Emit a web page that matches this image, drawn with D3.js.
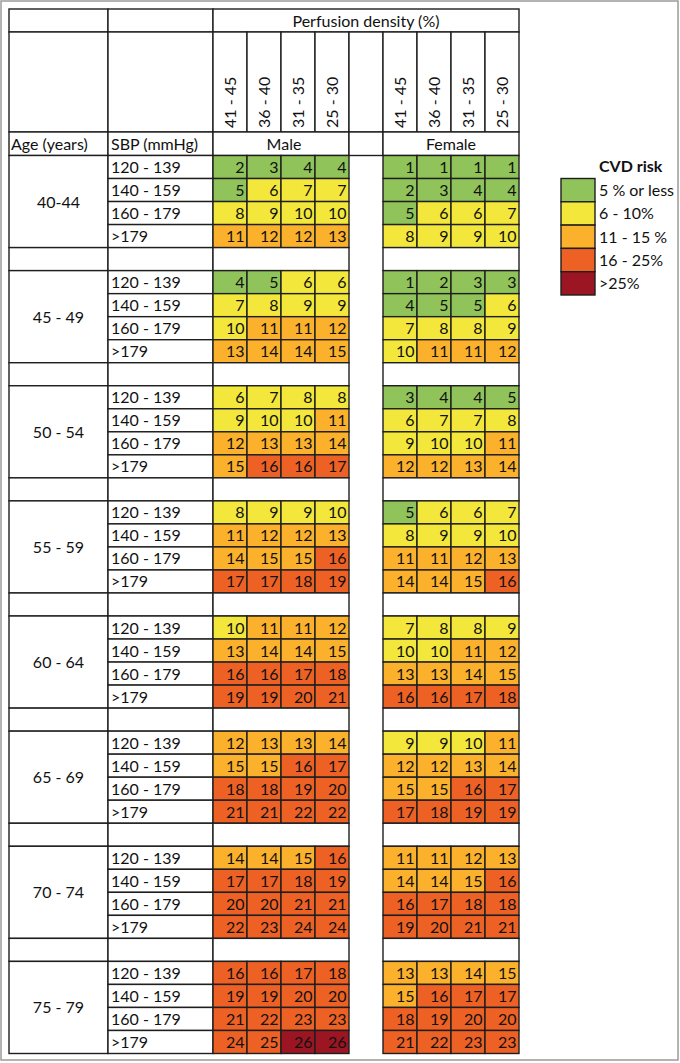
<!DOCTYPE html>
<html>
<head>
<meta charset="utf-8">
<script src="https://cdn.jsdelivr.net/npm/d3@7"></script>
<style>
  body { margin: 0; background: #fff; }
  text { font-family: Lato, "Open Sans", sans-serif; font-size: 16px; fill: #111; }
</style>
</head>
<body>
<div id="chart"></div>
<script>
// data
const ageGroups = ["40-44", "45 - 49", "50 - 54", "55 - 59", "60 - 64", "65 - 69", "70 - 74", "75 - 79"];
const sbpRanges = ["120 - 139", "140 - 159", "160 - 179", ">179"];
const densities = ["41 - 45", "36 - 40", "31 - 35", "25 - 30"];

const male = [
  [[2, 3, 4, 4], [5, 6, 7, 7], [8, 9, 10, 10], [11, 12, 12, 13]],
  [[4, 5, 6, 6], [7, 8, 9, 9], [10, 11, 11, 12], [13, 14, 14, 15]],
  [[6, 7, 8, 8], [9, 10, 10, 11], [12, 13, 13, 14], [15, 16, 16, 17]],
  [[8, 9, 9, 10], [11, 12, 12, 13], [14, 15, 15, 16], [17, 17, 18, 19]],
  [[10, 11, 11, 12], [13, 14, 14, 15], [16, 16, 17, 18], [19, 19, 20, 21]],
  [[12, 13, 13, 14], [15, 15, 16, 17], [18, 18, 19, 20], [21, 21, 22, 22]],
  [[14, 14, 15, 16], [17, 17, 18, 19], [20, 20, 21, 21], [22, 23, 24, 24]],
  [[16, 16, 17, 18], [19, 19, 20, 20], [21, 22, 23, 23], [24, 25, 26, 26]]
];
const female = [
  [[1, 1, 1, 1], [2, 3, 4, 4], [5, 6, 6, 7], [8, 9, 9, 10]],
  [[1, 2, 3, 3], [4, 5, 5, 6], [7, 8, 8, 9], [10, 11, 11, 12]],
  [[3, 4, 4, 5], [6, 7, 7, 8], [9, 10, 10, 11], [12, 12, 13, 14]],
  [[5, 6, 6, 7], [8, 9, 9, 10], [11, 11, 12, 13], [14, 14, 15, 16]],
  [[7, 8, 8, 9], [10, 10, 11, 12], [13, 13, 14, 15], [16, 16, 17, 18]],
  [[9, 9, 10, 11], [12, 12, 13, 14], [15, 15, 16, 17], [17, 18, 19, 19]],
  [[11, 11, 12, 13], [14, 14, 15, 16], [16, 17, 18, 18], [19, 20, 21, 21]],
  [[13, 13, 14, 15], [15, 16, 17, 17], [18, 19, 20, 20], [21, 22, 23, 23]]
];

const riskLabels = ["5 % or less", "6 - 10%", "11 - 15 %", "16 - 25%", ">25%"];
const riskBreaks = [6, 11, 16, 26];
const riskColors = ["#90c45a", "#f3e73c", "#fbb12c", "#ee6124", "#9b1622"];

// container
const width = 680, height = 1063;
const svg = d3.select("#chart").append("svg")
  .attr("width", width).attr("height", height);

svg.append("rect")
  .attr("x", 1).attr("y", 1).attr("width", 677).attr("height", 1059)
  .attr("fill", "none").attr("stroke", "#9a9a9a").attr("stroke-width", 1.5);

const line = "#1e1e1e", lw = 1.4;
const scaleColor = d3.scaleThreshold().domain(riskBreaks).range(riskColors);

// columns
const colKeys = ["m0", "m1", "m2", "m3", "gap", "f0", "f1", "f2", "f3"];
const x = d3.scaleBand().domain(colKeys).range([213, 519]);
const ageX = [9, 108], sbpX = [108, 213];

// rows: 8 groups of 4 with a spacer row between groups
const rowKeys = d3.range(ageGroups.length * 5 - 1);
const y = d3.scaleBand().domain(rowKeys).range([155.5, 1053.5]);
const rowOf = (g, r) => g * 5 + r;

const hTop = 9, h1 = 32, h2 = 132, h3 = 155.5;

const cell = (g, x0, x1, y0, y1, fill) => g.append("rect")
  .attr("x", x0).attr("y", y0).attr("width", x1 - x0).attr("height", y1 - y0)
  .attr("fill", fill || "#fff").attr("stroke", line).attr("stroke-width", lw);

// header
const head = svg.append("g");
cell(head, ageX[0], ageX[1], hTop, h1);
cell(head, sbpX[0], sbpX[1], hTop, h1);
cell(head, x("m0"), x("f3") + x.bandwidth(), hTop, h1);
cell(head, ageX[0], ageX[1], h1, h2);
cell(head, sbpX[0], sbpX[1], h1, h2);
colKeys.forEach((k) => cell(head, x(k), x(k) + x.bandwidth(), h1, h2));
cell(head, ageX[0], ageX[1], h2, h3);
cell(head, sbpX[0], sbpX[1], h2, h3);
cell(head, x("m0"), x("m3") + x.bandwidth(), h2, h3);
cell(head, x("gap"), x("gap") + x.bandwidth(), h2, h3);
cell(head, x("f0"), x("f3") + x.bandwidth(), h2, h3);

head.append("text")
  .attr("x", (x("m0") + x("f3") + x.bandwidth()) / 2).attr("y", 26.5)
  .attr("text-anchor", "middle").text("Perfusion density (%)");
head.append("text").attr("x", 11).attr("y", 149.5).text("Age (years)");
head.append("text").attr("x", 111).attr("y", 149.5).text("SBP (mmHg)");
head.append("text")
  .attr("x", (x("m0") + x("m3") + x.bandwidth()) / 2 + 3).attr("y", 149.5)
  .attr("text-anchor", "middle").text("Male");
head.append("text")
  .attr("x", (x("f0") + x("f3") + x.bandwidth()) / 2).attr("y", 149.5)
  .attr("text-anchor", "middle").text("Female");

["m", "f"].forEach((s) => {
  densities.forEach((d, i) => {
    const cx = x(s + i) + x.bandwidth() / 2 + 6;
    head.append("text")
      .attr("transform", `translate(${cx},128) rotate(-90)`)
      .text(d);
  });
});

// body
const body = svg.append("g");
ageGroups.forEach((age, g) => {
  const yTop = y(rowOf(g, 0));
  const yBot = y(rowOf(g, 3)) + y.bandwidth();
  cell(body, ageX[0], ageX[1], yTop, yBot);
  body.append("text")
    .attr("x", (ageX[0] + ageX[1]) / 2).attr("y", (yTop + yBot) / 2 + 6)
    .attr("text-anchor", "middle").text(age);

  sbpRanges.forEach((sbp, r) => {
    const y0 = y(rowOf(g, r));
    cell(body, sbpX[0], sbpX[1], y0, y0 + y.bandwidth());
    body.append("text")
      .attr("x", sbpX[0] + 3).attr("y", y0 + y.bandwidth() / 2 + 6)
      .text(sbp);

    [["m", male], ["f", female]].forEach(([s, vals]) => {
      vals[g][r].forEach((v, c) => {
        const x0 = x(s + c);
        cell(body, x0, x0 + x.bandwidth(), y0, y0 + y.bandwidth(), scaleColor(v));
        body.append("text")
          .attr("x", x0 + x.bandwidth() - 2.5).attr("y", y0 + y.bandwidth() / 2 + 6)
          .attr("text-anchor", "end").text(v);
      });
    });
  });

  // spacer row
  if (g < ageGroups.length - 1) {
    const ys = y(rowOf(g, 4));
    const ye = ys + y.bandwidth();
    cell(body, ageX[0], ageX[1], ys, ye);
    cell(body, sbpX[0], sbpX[1], ys, ye);
    cell(body, x("m0"), x("m3") + x.bandwidth(), ys, ye);
    cell(body, x("f0"), x("f3") + x.bandwidth(), ys, ye);
  }
});

// legend
const legend = svg.append("g");
legend.append("text")
  .attr("x", 599).attr("y", 172)
  .style("font-weight", "bold").text("CVD risk");
const ly = d3.scaleBand().domain(d3.range(riskLabels.length)).range([178.5, 295]);
riskLabels.forEach((lab, i) => {
  legend.append("rect")
    .attr("x", 561).attr("y", ly(i)).attr("width", 34).attr("height", ly.bandwidth())
    .attr("fill", riskColors[i]).attr("stroke", line).attr("stroke-width", lw);
  legend.append("text")
    .attr("x", 599).attr("y", ly(i) + ly.bandwidth() / 2 + 6)
    .text(lab);
});
</script>
</body>
</html>
